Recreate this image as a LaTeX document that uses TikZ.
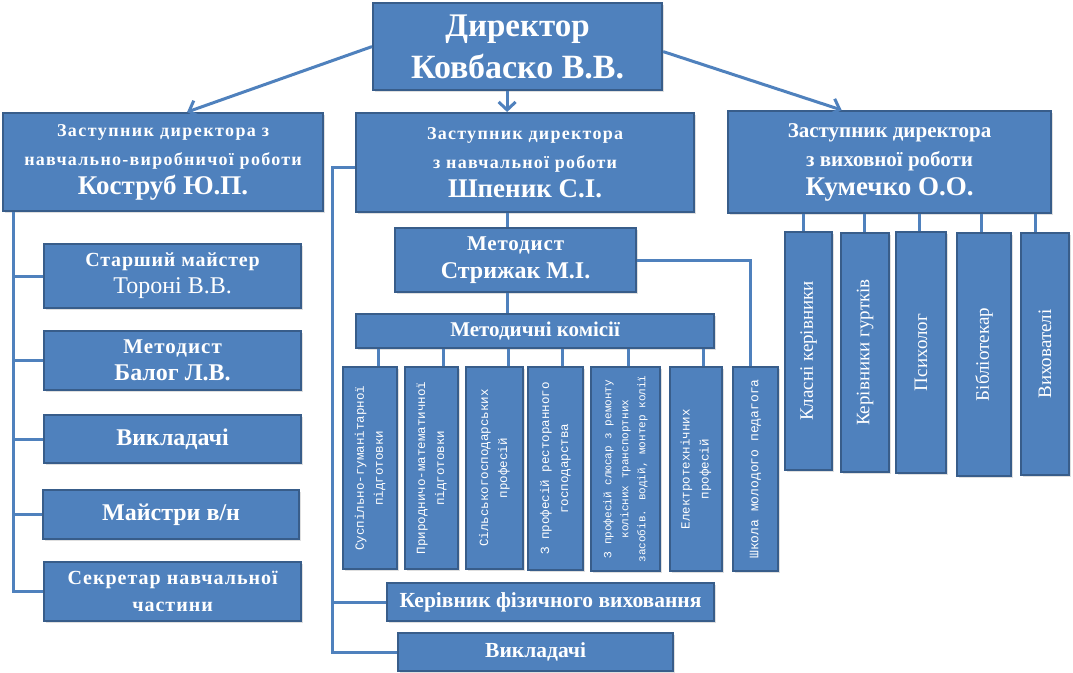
\documentclass[tikz,border=0pt]{standalone}
\usepackage{fontspec}
\setmainfont{Liberation Serif}
\newfontfamily\monofam{Liberation Mono}
\usetikzlibrary{arrows.meta,shadows}
\definecolor{boxfill}{RGB}{79,129,189}
\definecolor{boxline}{RGB}{56,93,138}
\definecolor{connc}{RGB}{79,129,189}
\begin{document}
\begin{tikzpicture}[x=1pt,y=-1pt,
  box/.style={draw=boxline, line width=2.2pt, fill=boxfill, text=white, inner sep=1pt, align=center,
    drop shadow={opacity=0.25, shadow xshift=1.5pt, shadow yshift=-1.5pt}},
  nw/.style={anchor=north west},
  conn/.style={draw=connc, line width=3pt},
  arr/.style={conn, -{Straight Barb[length=8pt,width=17pt,line width=3pt]}},
  hd/.style={font=\fontsize{18}{29}\selectfont\bfseries},
  vt/.style={box, rotate=90, font=\monofam\fontsize{12.5}{19}\selectfont},
  rt/.style={box, rotate=90, font=\fontsize{19}{22}\selectfont},
]
\useasboundingbox[fill=white] (0,0) rectangle (1073,672);

% top level
\node[box,nw,minimum width=289pt,minimum height=87pt,font=\fontsize{34}{42}\selectfont\bfseries] (dir) at (372,2)
  {{\fontsize{33}{42}\selectfont Директор}\\Ковбаско В.В.};

\node[box,nw,minimum width=320pt,minimum height=98pt,hd] (dep1) at (2,112)
  {{\addfontfeature{LetterSpace=8}Заступник директора з}\\{\addfontfeature{LetterSpace=7}навчально-виробничої роботи}\\{\fontsize{27}{30}\selectfont Коструб Ю.П.}};
\node[box,nw,minimum width=338pt,minimum height=99pt,hd] (dep2) at (355,112)
  {{\addfontfeature{LetterSpace=7}Заступник директора}\\{\addfontfeature{LetterSpace=7}з навчальної роботи}\\{\fontsize{27}{30}\selectfont Шпеник С.І.}};
\node[box,nw,minimum width=323pt,minimum height=102pt,font=\fontsize{21}{29}\selectfont\bfseries] (dep3) at (727,110)
  {Заступник директора\\з виховної роботи\\{\fontsize{27}{30}\selectfont Кумечко О.О.}};

% left column
\node[box,nw,minimum width=257pt,minimum height=64pt,font=\fontsize{20}{27}\selectfont\bfseries] (tor) at (43,243)
  {{\addfontfeature{LetterSpace=4}Старший майстер}\\{\fontsize{24}{27}\selectfont\mdseries Тороні В.В.}};
\node[box,nw,minimum width=257pt,minimum height=59pt,font=\fontsize{21}{27}\selectfont\bfseries] (bal) at (43,330)
  {{\addfontfeature{LetterSpace=5}Методист}\\{\fontsize{24}{27}\selectfont Балог Л.В.}};
\node[box,nw,minimum width=257pt,minimum height=48pt,font=\fontsize{24}{28}\selectfont\bfseries] (vyk1) at (43,414) {Викладачі};
\node[box,nw,minimum width=256pt,minimum height=49pt,font=\fontsize{24}{28}\selectfont\bfseries] (mai) at (42,489) {Майстри в/н};
\node[box,nw,minimum width=257pt,minimum height=59pt,font=\fontsize{20}{27}\selectfont\bfseries] (sek) at (43,561)
  {{\addfontfeature{LetterSpace=5}Секретар навчальної}\\{\addfontfeature{LetterSpace=5}частини}};

% middle column
\node[box,nw,minimum width=241pt,minimum height=64pt,font=\fontsize{21}{28}\selectfont\bfseries] (str) at (394,227)
  {{\addfontfeature{LetterSpace=4}Методист}\\{\fontsize{24}{28}\selectfont Стрижак М.І.}};
\node[box,nw,minimum width=358pt,minimum height=34pt,font=\fontsize{21}{24}\selectfont\bfseries] (kom) at (355,313) {Методичні комісії};
\node[box,nw,minimum width=327pt,minimum height=38pt,font=\fontsize{21.5}{24}\selectfont\bfseries] (fiz) at (386,582) {Керівник фізичного виховання};
\node[box,nw,minimum width=275pt,minimum height=38pt,font=\fontsize{21.5}{24}\selectfont\bfseries] (vyk2) at (397,632) {Викладачі};

% commissions (vertical)
\node[vt,minimum width=202pt,minimum height=54pt] (c1) at (370,468) {Суспільно-гуманітарної\\підготовки};
\node[vt,minimum width=202pt,minimum height=53pt] (c2) at (431.5,468) {Природничо-математичної\\підготовки};
\node[vt,minimum width=202pt,minimum height=57pt] (c3) at (494.5,468) {Сільськогосподарських\\професій};
\node[vt,minimum width=203pt,minimum height=55pt] (c4) at (555.5,468.5) {З професій ресторанного\\господарства};
\node[vt,minimum width=204pt,minimum height=69pt,font=\monofam\fontsize{11}{17}\selectfont] (c5) at (625.5,469) {З професій слюсар з ремонту\\колісних транспортних\\засобів. водій, монтер колії};
\node[vt,minimum width=204pt,minimum height=52pt] (c6) at (696,469) {Електротехнічних\\професій};
\node[vt,minimum width=204pt,minimum height=45pt,font=\monofam\fontsize{13}{19}\selectfont] (c7) at (755.5,469) {Школа молодого педагога};

% right column (vertical)
\node[rt,minimum width=238pt,minimum height=47pt] (r1) at (808.5,351) {Класні керівники};
\node[rt,minimum width=239pt,minimum height=48pt] (r2) at (865,352.5) {Керівники гуртків};
\node[rt,minimum width=241pt,minimum height=50pt] (r3) at (921,352.5) {Психолог};
\node[rt,minimum width=243pt,minimum height=54pt] (r4) at (984,354.5) {Бібліотекар};
\node[rt,minimum width=242pt,minimum height=48pt] (r5) at (1045,354) {Вихователі};

% arrows from director
\draw[arr] (dir.west) -- ([xshift=24pt]dep1.north);
\draw[arr] ([xshift=-10.5pt]dir.south) -- ([xshift=-10.5pt]dir.south |- dep2.north);
\draw[arr] ([yshift=-5pt]dir.east) -- ([xshift=-48pt]dep3.north);

% left branch
\coordinate (lv) at (13,0);
\draw[conn] (lv |- dep1.south) -- (lv |- sek.west) -- (sek.west);
\foreach \n in {tor,bal,vyk1,mai} \draw[conn] (lv |- \n.west) -- (\n.west);

% middle branch
\coordinate (mv) at (332,0);
\draw[conn] ([yshift=-5pt]dep2.west) -| (mv |- vyk2.west) -- (vyk2.west);
\draw[conn] (mv |- fiz.west) -- (fiz.west);
\coordinate (sv) at (507,0);
\draw[conn] (sv |- dep2.south) -- (sv |- str.north);
\draw[conn] (sv |- str.south) -- (sv |- kom.north);
\draw[conn] (str.east) -| ([xshift=-5.5pt]c7.east);
\foreach \x/\n in {378/c1,443/c2,508/c3,562/c4,628/c5,703/c6}
  \draw[conn] (\x,0 |- kom.south) -- (\x,0 |- \n.east);

% right branch
\foreach \x/\n in {803/r1,864/r2,919/r3,981/r4,1035/r5}
  \draw[conn] (\x,0 |- dep3.south) -- (\x,0 |- \n.east);
\end{tikzpicture}
\end{document}
